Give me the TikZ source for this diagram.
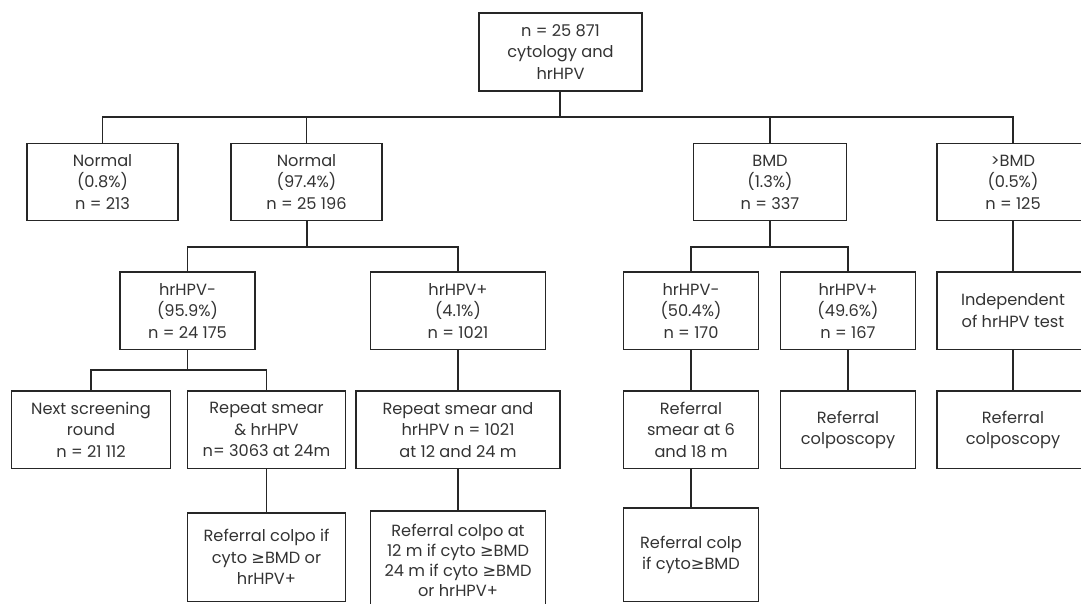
\documentclass[tikz,border=0pt]{standalone}
\usepackage{fontspec}
\setmainfont{Poppins}
\newfontfamily\symfont{DejaVu Sans}
\newcommand{\gesym}{{\symfont ≥}}
\begin{document}
\begin{tikzpicture}[x=1pt,y=-1pt,
  box/.style={draw=black!85, line width=1.3pt, rectangle, align=center, inner sep=0pt,
    font=\fontsize{16.2}{21.5}\selectfont, text=black!80, minimum height=77.5pt},
  link/.style={draw=black!85, line width=1.3pt}]
\useasboundingbox (0,0) rectangle (1081,604);
\clip (0,0) rectangle (1081,604);
% level 0
\node[box, minimum width=163pt, minimum height=78pt] (top) at (560.5,52) {n = 25 871\\cytology and\\hrHPV};
% level 1
\node[box, minimum width=151pt] (n1) at (102.5,182) {Normal\\(0.8\%)\\n = 213};
\node[box, minimum width=151pt] (n2) at (306.5,182) {Normal\\(97.4\%)\\n = 25 196};
\node[box, minimum width=153pt] (bmd) at (770,182) {BMD\\(1.3\%)\\n = 337};
\node[box, minimum width=152pt] (gbmd) at (1013,182) {>BMD\\(0.5\%)\\n = 125};
% level 2
\node[box, minimum width=135pt] (hneg) at (187.5,310.75) {hrHPV-\\(95.9\%)\\n = 24 175};
\node[box, minimum width=175pt] (hpos) at (458,310.75) {hrHPV+\\(4.1\%)\\n = 1021};
\node[box, minimum width=135.5pt] (bneg) at (691,310.75) {hrHPV-\\(50.4\%)\\n = 170};
\node[box, minimum width=135pt] (bpos) at (848,310.75) {hrHPV+\\(49.6\%)\\n = 167};
\node[box, minimum width=152pt] (indep) at (1013,310.75) {Independent\\of hrHPV test};
% level 3
\node[box, minimum width=159pt] (next) at (91,429.75) {Next screening\\round\\n = 21 112};
\node[box, minimum width=158pt] (rep) at (266.5,429.75) {Repeat smear\\\& hrHPV\\n= 3063 at 24m};
\node[box, minimum width=204pt] (repand) at (458,429.75) {Repeat smear and\\hrHPV n = 1021\\at 12 and 24 m};
\node[box, minimum width=135.5pt] (refsm) at (691,429.75) {Referral\\smear at 6\\and 18 m};
\node[box, minimum width=135pt] (refc1) at (848,429.75) {Referral\\colposcopy};
\node[box, minimum width=152pt] (refc2) at (1013,429.75) {Referral\\colposcopy};
% level 4
\node[box, minimum width=158pt, minimum height=88.7pt] (refif) at (266.5,557.3) {Referral colpo if\\cyto \gesym{}BMD or\\hrHPV+};
\node[box, minimum width=175.5pt, minimum height=98pt, font=\fontsize{16.2}{20}\selectfont] (refat) at (458,560) {Referral colpo at\\12 m if cyto \gesym{}BMD\\24 m if cyto \gesym{}BMD\\or hrHPV+};
\node[box, minimum width=135.5pt, minimum height=93.5pt] (refcolp) at (691,554.75) {Referral colp\\if cyto\gesym{}BMD};
% connectors
\coordinate (f0) at (560,117);
\coordinate (f1) at (307,247);
\coordinate (f2) at (770,247);
\coordinate (f3) at (187.5,370);
\draw[link] (top.south -| f0) -- (f0);
\draw[link] (f0) -| (n1.north);
\draw[link] (f0) -| (n2.north);
\draw[link] (f0) -| (bmd.north);
\draw[link] (f0) -| (gbmd.north);
\draw[link] (n2.south -| f1) -- (f1);
\draw[link] (f1) -| (hneg.north);
\draw[link] (f1) -| (hpos.north);
\draw[link] (bmd.south) -- (f2);
\draw[link] (f2) -| (bneg.north);
\draw[link] (f2) -| (bpos.north);
\draw[link] (gbmd.south) -- (indep.north);
\draw[link] (hneg.south) -- (f3);
\draw[link] (f3) -| (next.north);
\draw[link] (f3) -| (rep.north);
\draw[link] (hpos.south) -- (repand.north);
\draw[link] (bneg.south) -- (refsm.north);
\draw[link] (bpos.south) -- (refc1.north);
\draw[link] (indep.south) -- (refc2.north);
\draw[link] (rep.south) -- (refif.north);
\draw[link] (repand.south) -- (refat.north);
\draw[link] (refsm.south) -- (refcolp.north);
\end{tikzpicture}
\end{document}
